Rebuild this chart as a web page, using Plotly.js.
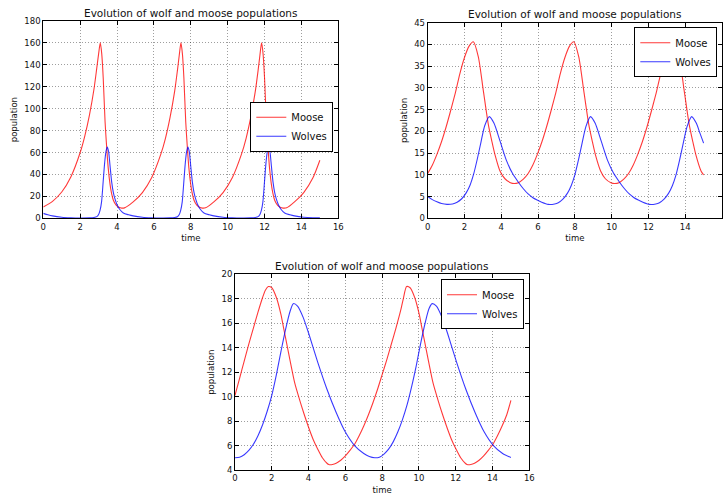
<!DOCTYPE html>
<html>
<head>
<meta charset="utf-8">
<script src="https://cdn.plot.ly/plotly-3.0.1.min.js"></script>
<style>html,body{margin:0;padding:0;background:#fff;}#chart{width:723px;height:495px;}</style>
</head>
<body>
<div id="chart"></div>
<script>
// ---- Top-left panel ----
const tlMooseT = [0,0.5,1.0,1.5,2.0,2.25,2.5,2.75,2.9,3.0,3.09,3.17,3.25,3.35,3.44,3.52,3.62,3.7,3.8,3.95,4.1,4.25,
4.4,4.875,5.375,5.875,6.375,6.625,6.875,7.125,7.275,7.375,7.465,7.545,7.625,7.725,7.815,7.895,7.995,8.075,8.175,8.325,8.475,8.625,
8.8,9.25,9.75,10.25,10.75,11.0,11.25,11.5,11.65,11.75,11.84,11.92,12.0,12.1,12.19,12.27,12.37,12.45,12.55,12.7,12.85,13.0,
13.2,13.625,14.125,14.625,15.0];
const tlMoose = [10.4,15.5,24,38,60,75,94,118,137,150,160,150,128,88,64,46,31,23,16.5,12,10,9.3,
9.5,15.0,23.5,37,58.5,73,92,116,135,149,160,150,128,88,64,46,31,23,16.5,12,10,9.3,
9.6,15.0,23.5,37,58.5,73,92,116,135,149,160,150,128,88,64,46,31,23,16.5,12,10,9.3,
9.6,15,23.5,37,53];
const tlWolfT = [0,0.25,0.5,1.0,1.5,2.0,2.5,2.75,2.9,3.0,3.08,3.16,3.25,3.33,3.4,3.47,3.54,3.62,3.71,3.8,3.9,4.0,4.15,4.34,
4.625,4.875,5.375,5.875,6.375,6.875,7.125,7.275,7.375,7.455,7.535,7.625,7.705,7.775,7.845,7.915,7.995,8.085,8.175,8.275,8.375,8.525,8.715,
9.0,9.25,9.75,10.25,10.75,11.25,11.5,11.65,11.75,11.83,11.91,12.0,12.08,12.15,12.22,12.29,12.37,12.46,12.55,12.65,12.75,12.9,13.09,
13.375,13.625,14.125,14.625,15.0];
const tlWolves = [4.5,3.2,2.2,1.0,0.5,0.3,0.4,0.8,1.5,3.5,7.5,15,34,51,61,65,61,48,33,23.5,17,12.3,8,4.8,
3.2,2.2,1.0,0.5,0.3,0.4,0.8,1.5,3.5,7.5,15,34,51,61,65,61,48,33,23.5,17,12.3,8,4.8,
3.2,2.2,1.0,0.5,0.3,0.4,0.8,1.5,3.5,7.5,15,34,51,61,65,61,48,33,23.5,17,12.3,8,4.8,
3.2,2.2,1.0,0.5,0.35];

// ---- Top-right panel ----
const trMooseT = [0,0.25,0.5,0.75,1.0,1.25,1.5,1.75,2.0,2.25,2.48,2.75,3.02,3.3,3.5,3.66,3.93,4.2,4.5,4.7,4.93,5.2,5.46,
5.71,5.96,6.21,6.46,6.71,6.96,7.21,7.46,7.71,7.94,8.21,8.48,8.76,8.96,9.12,9.4,9.66,9.96,10.16,10.4,10.66,10.92,
11.17,11.42,11.67,11.92,12.17,12.42,12.67,12.92,13.17,13.4,13.67,13.94,14.22,14.42,14.58,14.86,15.0];
const trMoose = [10.3,12.2,14.7,17.6,21.0,24.8,28.8,33.3,37.0,39.6,40.6,37.2,29.5,21.5,17.5,14.6,10.9,9.1,8.2,8.0,8.2,9.0,10.3,
12.2,14.7,17.6,21.0,24.8,28.8,33.3,37.0,39.6,40.6,37.2,29.5,21.5,17.5,14.6,10.9,9.1,8.2,8.0,8.2,9.0,10.3,
12.2,14.7,17.6,21.0,24.8,28.8,33.3,37.0,39.6,40.6,37.2,29.5,21.5,17.5,14.6,10.9,10.0];
const trWolfT = [0,0.25,0.5,0.75,1.05,1.35,1.6,1.85,2.1,2.3,2.5,2.7,2.9,3.1,3.35,3.6,3.93,4.29,4.6,4.93,5.2,5.46,5.7,5.95,6.2,6.55,
6.9,7.1,7.35,7.6,7.8,8.0,8.2,8.4,8.6,8.85,9.1,9.43,9.79,10.1,10.43,10.7,10.96,11.2,11.45,11.7,12.05,
12.4,12.6,12.85,13.1,13.3,13.5,13.7,13.9,14.1,14.35,14.6,14.8,15.0];
const trWolves = [5.0,4.3,3.8,3.4,3.2,3.3,3.7,4.5,5.9,7.6,10.2,13.7,17.6,21.3,23.4,21.9,17.8,13.2,10.4,8.3,6.8,5.6,4.8,4.2,3.7,3.2,
3.3,3.6,4.4,5.8,7.5,10.0,13.5,17.4,21.1,23.4,21.9,17.8,13.2,10.4,8.3,6.8,5.6,4.8,4.2,3.7,3.2,
3.3,3.6,4.4,5.8,7.5,10.0,13.5,17.4,21.1,23.4,21.9,19.6,17.3];

// ---- Bottom panel ----
const bMooseT = [0,0.25,0.5,0.75,1.0,1.25,1.5,1.65,1.81,2.0,2.25,2.5,2.63,2.75,3.0,3.25,3.5,3.75,4.0,4.25,4.5,4.75,5.0,5.1,5.3,5.5,5.75,6.0,6.25,6.5,6.75,7.0,7.25,7.5,7.75,8.0,8.25,8.5,8.75,9.0,9.15,9.33,
9.52,9.77,10.02,10.15,10.27,10.52,10.77,11.02,11.27,11.52,11.77,12.02,12.27,12.52,12.62,12.82,13.02,13.27,13.52,13.77,14.02,14.27,14.52,14.77,15.0];
const bMoose = [10.1,11.5,12.9,14.3,15.6,16.9,18.1,18.7,19.0,18.9,18.1,16.7,15.7,14.8,12.9,11.1,9.8,8.6,7.5,6.5,5.7,5.0,4.55,4.45,4.45,4.55,4.8,5.15,5.6,6.1,6.8,7.6,8.5,9.5,10.6,11.8,13.0,14.3,15.6,17.0,18.0,19.0,
18.9,18.1,16.7,15.7,14.8,12.9,11.1,9.8,8.6,7.5,6.5,5.7,5.0,4.55,4.45,4.45,4.55,4.8,5.15,5.6,6.1,6.8,7.6,8.5,9.7];
const bWolfT = [0,0.25,0.5,0.75,1.0,1.25,1.5,1.75,2.0,2.25,2.5,2.75,3.0,3.17,3.4,3.7,4.0,4.5,5.0,5.5,6.0,6.5,7.0,7.3,7.6,
7.85,8.1,8.35,8.6,8.85,9.1,9.35,9.6,9.85,10.1,10.35,10.55,10.72,10.95,11.25,11.55,12.05,12.55,13.05,13.55,14.05,14.55,15.0];
const bWolves = [5.0,5.05,5.25,5.6,6.1,6.8,7.7,8.8,10.1,11.8,13.7,15.5,17.0,17.6,17.4,16.5,15.2,12.8,10.6,8.7,7.1,6.0,5.35,5.1,5.0,
5.05,5.3,5.7,6.3,7.1,8.1,9.3,10.8,12.5,14.4,16.1,17.2,17.6,17.4,16.5,15.2,12.8,10.6,8.7,7.1,6.0,5.35,5.02];

const xTicks = [0,2,4,6,8,10,12,14,16];
const titleText = 'Evolution of wolf and moose populations';
const seriesNames = ['Moose','Wolves'];

const RED = 'rgba(255,0,0,0.78)';
const BLUE = 'rgba(0,0,255,0.78)';
const FONT = 'DejaVu Sans, Verdana, sans-serif';

function line(x, y, name, color, xa, ya, leg) {
  return {x: x, y: y, name: name, type: 'scatter', mode: 'lines',
    line: {color: color, width: 1.1, shape: 'spline', smoothing: 0.7},
    xaxis: xa, yaxis: ya, legend: leg, hoverinfo: 'skip'};
}

const data = [
  line(tlMooseT, tlMoose, seriesNames[0], RED, 'x', 'y', 'legend'),
  line(tlWolfT, tlWolves, seriesNames[1], BLUE, 'x', 'y', 'legend'),
  line(trMooseT, trMoose, seriesNames[0], RED, 'x2', 'y2', 'legend2'),
  line(trWolfT, trWolves, seriesNames[1], BLUE, 'x2', 'y2', 'legend2'),
  line(bMooseT, bMoose, seriesNames[0], RED, 'x3', 'y3', 'legend3'),
  line(bWolfT, bWolves, seriesNames[1], BLUE, 'x3', 'y3', 'legend3')
];

const W = 723, H = 495;
function xd(a, b) { return [a / W, b / W]; }
function yd(top, bottom) { return [1 - bottom / H, 1 - top / H]; }

function axBase() {
  return {showline: true, linecolor: 'black', linewidth: 1, mirror: 'allticks',
    ticks: 'inside', ticklen: 4, tickcolor: 'black', tickwidth: 1,
    showgrid: true, gridcolor: 'rgba(0,0,0,0.38)', griddash: '1px,2px', gridwidth: 1,
    zeroline: false, tickfont: {family: FONT, size: 8.5, color: '#111'}, fixedrange: true};
}
function xAxis(dom, anchor) {
  return Object.assign(axBase(), {domain: dom, anchor: anchor, range: [0, 16],
    tickvals: xTicks, ticktext: xTicks.map(String),
    title: {text: 'time', font: {family: FONT, size: 8.5, color: '#111'}, standoff: 4}});
}
function yAxis(dom, anchor, r, dt) {
  return Object.assign(axBase(), {domain: dom, anchor: anchor, range: r, dtick: dt, tick0: r[0],
    title: {text: 'population', font: {family: FONT, size: 8.5, color: '#111'}, standoff: 5}});
}
function legendAt(xr, yt) {
  return {x: xr / W, y: 1 - yt / H, xanchor: 'right', yanchor: 'top', xref: 'paper', yref: 'paper',
    bgcolor: 'white', bordercolor: 'black', borderwidth: 1,
    font: {family: FONT, size: 10, color: '#111'}, tracegroupgap: 0, itemwidth: 30};
}
function titleAnn(cx, cy) {
  return {text: titleText, xref: 'paper', yref: 'paper', x: cx / W, y: 1 - cy / H,
    xanchor: 'center', yanchor: 'middle', showarrow: false,
    font: {family: FONT, size: 10.5, color: '#111'}};
}

const layout = {
  width: W, height: H,
  margin: {l: 0, r: 0, t: 0, b: 0},
  paper_bgcolor: 'white', plot_bgcolor: 'white',
  font: {family: FONT},
  showlegend: true,
  xaxis: xAxis(xd(43.3, 338.3), 'y'),
  yaxis: yAxis(yd(21, 218.3), 'x', [0, 180], 20),
  xaxis2: xAxis(xd(427.7, 722), 'y2'),
  yaxis2: yAxis(yd(22.7, 218.3), 'x2', [0, 45], 5),
  xaxis3: xAxis(xd(235, 529.3), 'y3'),
  yaxis3: yAxis(yd(274.3, 470), 'x3', [4, 20], 2),
  legend: legendAt(333.3, 101.7),
  legend2: legendAt(717.3, 27.3),
  legend3: legendAt(524, 279.3),
  annotations: [titleAnn(190.8, 13), titleAnn(574.9, 14), titleAnn(382, 266)]
};

Plotly.newPlot('chart', data, layout, {displayModeBar: false, staticPlot: true});
</script>
</body>
</html>
